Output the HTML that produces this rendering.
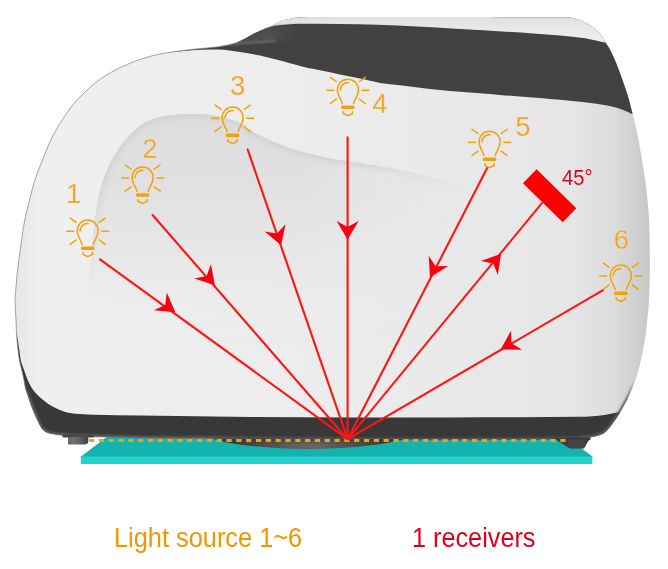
<!DOCTYPE html>
<html><head><meta charset="utf-8"><style>
html,body{margin:0;padding:0;background:#fff;}
body{width:668px;height:569px;overflow:hidden;position:relative;font-family:"Liberation Sans",sans-serif;}
svg{position:absolute;left:0;top:0;}
.lbl{position:absolute;white-space:nowrap;line-height:1;}
</style></head><body>
<svg width="668" height="569" viewBox="0 0 668 569">
<defs>
<clipPath id="bodyclip"><path d="M320.0 17.0 C346.7 16.9 373.3 17.0 400.0 17.0 C426.7 17.0 453.3 17.1 480.0 17.1 C506.7 17.2 533.3 17.0 560.0 17.3 C564.1 17.3 568.3 17.2 572.3 18.0 C576.6 18.9 580.7 20.4 584.6 22.3 C588.1 24.0 591.3 26.1 594.4 28.5 C596.7 30.3 598.8 32.4 600.6 34.6 C602.3 36.7 603.5 39.1 604.9 41.4 C606.3 43.6 607.9 45.8 609.2 48.1 C611.0 51.3 612.6 54.6 614.1 58.0 C615.9 62.0 617.4 66.2 619.0 70.3 C620.2 73.5 621.3 76.8 622.5 80.0 C623.7 83.3 624.9 86.6 626.0 90.0 C627.1 93.3 628.2 96.6 629.1 100.0 C630.4 104.6 631.4 109.3 632.6 114.0 C633.8 118.7 635.1 123.4 636.1 128.1 C637.4 133.9 638.5 139.8 639.6 145.7 C640.9 152.7 642.0 159.8 643.1 166.8 C644.0 172.7 645.0 178.5 645.8 184.4 C646.5 189.6 647.0 194.8 647.5 200.0 C648.1 207.0 648.9 214.0 649.2 221.0 C649.7 231.5 649.7 242.1 649.8 252.6 C649.9 263.1 649.9 273.7 649.6 284.2 C649.4 292.8 649.0 301.4 648.4 310.0 C648.2 313.3 647.6 316.7 647.2 320.0 C646.7 324.7 646.4 329.4 645.8 334.0 C645.2 338.7 644.3 343.4 643.4 348.1 C642.5 352.8 641.7 357.5 640.6 362.1 C639.5 366.8 638.2 371.6 636.7 376.2 C635.5 380.0 634.0 383.7 632.5 387.4 C630.9 391.3 629.4 395.2 627.6 399.0 C625.9 402.6 623.8 406.0 621.8 409.4 C619.8 412.7 617.8 416.0 615.7 419.2 C613.7 422.1 611.8 425.1 609.5 427.8 C607.7 429.9 605.8 432.0 603.4 433.4 C600.8 435.0 597.7 435.7 594.8 436.5 C592.4 437.1 589.9 437.3 587.4 437.6 C583.3 438.1 579.2 438.9 575.0 439.0 C550.0 439.7 525.0 439.8 500.0 440.0 C473.3 440.2 446.7 440.3 420.0 440.2 C380.0 440.1 340.0 439.9 300.0 439.6 C266.7 439.4 233.3 439.0 200.0 438.6 C180.0 438.4 160.0 438.3 140.0 437.9 C123.3 437.6 106.7 437.2 90.0 436.6 C80.8 436.3 71.6 435.9 62.4 435.3 C59.9 435.1 57.5 434.7 55.0 434.3 C52.5 433.9 49.9 433.5 47.5 432.7 C46.1 432.2 44.8 431.4 43.7 430.4 C42.5 429.3 41.5 428.1 40.7 426.7 C39.4 424.6 38.5 422.3 37.4 420.0 C36.2 417.5 35.1 415.0 34.0 412.5 C32.9 410.0 31.9 407.5 31.0 405.0 C30.3 403.2 29.8 401.3 29.2 399.5 C28.5 397.3 27.7 395.2 27.0 393.0 C26.4 391.2 25.7 389.4 25.3 387.6 C24.7 385.1 24.5 382.5 24.0 380.0 C23.4 376.9 22.6 373.8 21.9 370.7 C21.2 367.9 20.4 365.1 19.8 362.2 C19.1 358.7 18.6 355.2 18.2 351.7 C17.7 348.2 17.4 344.6 17.1 341.1 C16.8 337.6 16.6 334.1 16.4 330.6 C16.2 327.1 16.2 323.5 16.0 320.0 C15.7 313.3 15.1 306.5 15.0 299.8 C15.0 297.4 15.3 295.1 15.5 292.7 C16.0 286.8 16.4 281.0 17.0 275.1 C17.6 269.3 18.3 263.4 19.1 257.6 C19.9 251.7 20.9 245.9 21.7 240.0 C22.3 235.9 22.7 231.7 23.4 227.6 C24.0 223.8 24.7 220.0 25.5 216.3 C26.5 211.6 27.8 207.0 29.0 202.3 C30.2 197.6 31.2 192.9 32.5 188.2 C33.7 183.8 35.0 179.3 36.6 175.0 C38.4 169.9 40.6 165.0 42.6 160.0 C44.2 156.0 45.6 152.0 47.3 148.0 C48.9 144.3 50.5 140.6 52.3 137.0 C54.5 132.7 56.9 128.5 59.4 124.3 C61.3 121.1 63.4 118.0 65.5 114.9 C68.2 111.0 70.9 107.1 73.9 103.5 C77.1 99.7 80.7 96.1 84.3 92.6 C87.9 89.1 91.6 85.6 95.6 82.5 C99.0 79.8 102.8 77.4 106.5 75.1 C110.0 72.9 113.5 70.9 117.1 69.0 C120.5 67.3 124.1 65.8 127.6 64.3 C131.7 62.6 135.8 60.8 140.0 59.5 C146.6 57.4 153.2 55.3 160.0 54.0 C170.5 51.9 181.2 50.7 191.9 49.4 C200.8 48.3 209.9 48.0 218.8 46.7 C224.3 45.9 229.7 44.8 235.0 43.2 C238.5 42.1 241.7 40.3 245.0 38.6 C248.1 37.0 250.9 35.1 254.0 33.5 C257.6 31.7 261.3 30.1 265.0 28.5 C268.0 27.2 271.0 26.0 274.0 24.7 C276.0 23.8 277.9 22.6 280.0 21.8 C282.4 20.8 284.9 19.9 287.4 19.3 C290.8 18.5 294.3 17.7 297.8 17.5 C305.2 17.0 312.6 17.0 320.0 17.0 Z"/></clipPath>
<linearGradient id="bodyg" x1="0" y1="0" x2="668" y2="0" gradientUnits="userSpaceOnUse">
<stop offset="0.02" stop-color="#e6e6e6"/><stop offset="0.06" stop-color="#efefef"/><stop offset="0.5" stop-color="#ececec"/><stop offset="0.85" stop-color="#e6e6e6"/><stop offset="0.92" stop-color="#dcdcdc"/><stop offset="0.975" stop-color="#c6c6c6"/>
</linearGradient>
<linearGradient id="stripg" x1="0" y1="16.5" x2="0" y2="42" gradientUnits="userSpaceOnUse">
<stop offset="0" stop-color="#dadada"/><stop offset="0.12" stop-color="#e2e2e2"/><stop offset="0.5" stop-color="#e9e9e9"/><stop offset="1" stop-color="#eeeeee"/>
</linearGradient>
<linearGradient id="olg" x1="0" y1="0" x2="668" y2="0" gradientUnits="userSpaceOnUse">
<stop offset="0.33" stop-color="#fff"/><stop offset="0.42" stop-color="#fff" stop-opacity="0"/>
</linearGradient>
<filter id="blur2" x="-20%" y="-50%" width="140%" height="200%"><feGaussianBlur stdDeviation="1.6"/></filter>
<filter id="blur1" x="-20%" y="-100%" width="140%" height="300%"><feGaussianBlur stdDeviation="0.9"/></filter>
<linearGradient id="botg" x1="0" y1="380" x2="0" y2="400" gradientUnits="userSpaceOnUse"><stop offset="0" stop-color="#fff" stop-opacity="0"/><stop offset="1" stop-color="#fff"/></linearGradient>
<mask id="botmask"><rect x="0" y="0" width="668" height="569" fill="url(#botg)"/></mask>
<linearGradient id="wedgeg" x1="230" y1="0" x2="300" y2="0" gradientUnits="userSpaceOnUse"><stop offset="0" stop-color="#4a4a4a"/><stop offset="0.5" stop-color="#505050"/><stop offset="1" stop-color="#414141"/></linearGradient>
<linearGradient id="frontg" x1="0" y1="456.6" x2="0" y2="463.9" gradientUnits="userSpaceOnUse"><stop offset="0" stop-color="#23d1cd"/><stop offset="0.75" stop-color="#23d1cd"/><stop offset="1" stop-color="#17c6c2"/></linearGradient>
<filter id="blur3" x="-10%" y="-10%" width="120%" height="120%"><feGaussianBlur stdDeviation="2.5"/></filter>
<clipPath id="recclip"><path d="M78.0 420.0 C58.9 413.9 78.8 380.0 80.0 360.0 C80.8 346.6 82.7 333.3 84.0 320.0 C84.6 313.3 84.9 306.6 85.7 300.0 C87.3 286.0 89.4 272.2 91.0 258.2 C92.3 246.5 93.0 234.7 94.5 223.0 C95.9 212.4 97.2 201.8 99.8 191.4 C101.9 183.0 104.9 174.7 108.5 166.8 C111.9 159.4 116.1 152.3 120.8 145.7 C124.9 140.0 129.5 134.4 134.9 129.9 C140.2 125.5 146.1 121.8 152.5 119.3 C159.2 116.7 166.5 115.7 173.6 114.8 C180.6 113.9 187.7 113.9 194.7 114.1 C201.7 114.3 208.8 114.4 215.7 115.8 C224.0 117.4 232.3 119.6 240.0 123.0 C245.8 125.6 250.3 130.6 256.0 133.5 C266.9 139.0 278.0 144.1 289.5 148.0 C303.2 152.6 317.4 155.7 331.5 158.7 C340.9 160.7 350.5 161.4 360.0 163.0 C373.4 165.2 386.8 167.2 400.0 170.0 C416.8 173.5 433.4 177.8 450.0 182.0 C473.4 187.8 497.1 192.7 520.0 200.0 C547.1 208.7 582.6 207.4 600.0 230.0 C620.7 256.9 626.7 296.7 620.0 330.0 C612.4 368.1 597.1 418.4 560.0 430.0 C477.3 455.9 386.6 431.8 300.0 430.0 C225.9 428.5 148.6 442.5 78.0 420.0 Z"/></clipPath>
<linearGradient id="recg2" x1="0" y1="0" x2="668" y2="0" gradientUnits="userSpaceOnUse"><stop offset="0" stop-color="#fff"/><stop offset="0.5" stop-color="#fff"/><stop offset="0.7" stop-color="#fff" stop-opacity="0"/></linearGradient>
<linearGradient id="recg3" x1="0" y1="0" x2="0" y2="569" gradientUnits="userSpaceOnUse"><stop offset="0.3" stop-color="#fff"/><stop offset="0.5" stop-color="#fff" stop-opacity="0"/></linearGradient>
<mask id="recmask3"><rect x="0" y="0" width="668" height="569" fill="url(#recg3)"/></mask>
<mask id="recmask2"><rect x="0" y="0" width="668" height="569" fill="url(#recg2)"/></mask>
<mask id="olmask"><rect x="0" y="0" width="668" height="569" fill="url(#olg)"/></mask>
<linearGradient id="recg" x1="0" y1="110" x2="0" y2="430" gradientUnits="userSpaceOnUse">
<stop offset="0" stop-color="#dcdcdc"/><stop offset="0.25" stop-color="#e1e1e1"/><stop offset="0.45" stop-color="#e4e4e4" stop-opacity="0.7"/><stop offset="0.62" stop-color="#e8e8e8" stop-opacity="0.15"/><stop offset="0.75" stop-color="#e8e8e8" stop-opacity="0"/>
</linearGradient>
<linearGradient id="recgx" x1="80" y1="0" x2="520" y2="0" gradientUnits="userSpaceOnUse">
<stop offset="0" stop-color="#fff" stop-opacity="1"/><stop offset="0.5" stop-color="#fff" stop-opacity="1"/><stop offset="0.9" stop-color="#fff" stop-opacity="0"/>
</linearGradient>
<mask id="recmask"><rect x="0" y="0" width="668" height="569" fill="url(#recgx)"/></mask>
<radialGradient id="bulgeg" cx="310" cy="446" r="80" gradientUnits="userSpaceOnUse" gradientTransform="translate(310 446) scale(1 0.12) translate(-310 -446)">
<stop offset="0" stop-color="#6a6a6a"/><stop offset="1" stop-color="#3a3a3a"/>
</radialGradient>
<linearGradient id="footl" x1="68" y1="0" x2="88.3" y2="0" gradientUnits="userSpaceOnUse">
<stop offset="0" stop-color="#5e5e5e"/><stop offset="0.25" stop-color="#747474"/><stop offset="0.7" stop-color="#5a5a5a"/><stop offset="1" stop-color="#3c3c3c"/>
</linearGradient>
</defs>

<polygon points="80.0,457.2 106.7,437.1 567.2,437.1 593.2,457.2" fill="#14b3ae"/>
<rect x="80.8" y="456.6" width="511.5" height="7.3" fill="url(#frontg)"/>
<g clip-path="url(#bodyclip)">
<rect x="0" y="0" width="668" height="569" fill="url(#bodyg)"/>
<path d="M78.0 420.0 C58.9 413.9 78.8 380.0 80.0 360.0 C80.8 346.6 82.7 333.3 84.0 320.0 C84.6 313.3 84.9 306.6 85.7 300.0 C87.3 286.0 89.4 272.2 91.0 258.2 C92.3 246.5 93.0 234.7 94.5 223.0 C95.9 212.4 97.2 201.8 99.8 191.4 C101.9 183.0 104.9 174.7 108.5 166.8 C111.9 159.4 116.1 152.3 120.8 145.7 C124.9 140.0 129.5 134.4 134.9 129.9 C140.2 125.5 146.1 121.8 152.5 119.3 C159.2 116.7 166.5 115.7 173.6 114.8 C180.6 113.9 187.7 113.9 194.7 114.1 C201.7 114.3 208.8 114.4 215.7 115.8 C224.0 117.4 232.3 119.6 240.0 123.0 C245.8 125.6 250.3 130.6 256.0 133.5 C266.9 139.0 278.0 144.1 289.5 148.0 C303.2 152.6 317.4 155.7 331.5 158.7 C340.9 160.7 350.5 161.4 360.0 163.0 C373.4 165.2 386.8 167.2 400.0 170.0 C416.8 173.5 433.4 177.8 450.0 182.0 C473.4 187.8 497.1 192.7 520.0 200.0 C547.1 208.7 582.6 207.4 600.0 230.0 C620.7 256.9 626.7 296.7 620.0 330.0 C612.4 368.1 597.1 418.4 560.0 430.0 C477.3 455.9 386.6 431.8 300.0 430.0 C225.9 428.5 148.6 442.5 78.0 420.0 Z" fill="url(#recg)" mask="url(#recmask)"/>
<g mask="url(#recmask3)"><g clip-path="url(#recclip)" mask="url(#recmask2)"><path d="M78.0 420.0 C58.9 413.9 78.8 380.0 80.0 360.0 C80.8 346.6 82.7 333.3 84.0 320.0 C84.6 313.3 84.9 306.6 85.7 300.0 C87.3 286.0 89.4 272.2 91.0 258.2 C92.3 246.5 93.0 234.7 94.5 223.0 C95.9 212.4 97.2 201.8 99.8 191.4 C101.9 183.0 104.9 174.7 108.5 166.8 C111.9 159.4 116.1 152.3 120.8 145.7 C124.9 140.0 129.5 134.4 134.9 129.9 C140.2 125.5 146.1 121.8 152.5 119.3 C159.2 116.7 166.5 115.7 173.6 114.8 C180.6 113.9 187.7 113.9 194.7 114.1 C201.7 114.3 208.8 114.4 215.7 115.8 C224.0 117.4 232.3 119.6 240.0 123.0 C245.8 125.6 250.3 130.6 256.0 133.5 C266.9 139.0 278.0 144.1 289.5 148.0 C303.2 152.6 317.4 155.7 331.5 158.7 C340.9 160.7 350.5 161.4 360.0 163.0 C373.4 165.2 386.8 167.2 400.0 170.0 C416.8 173.5 433.4 177.8 450.0 182.0 C473.4 187.8 497.1 192.7 520.0 200.0 C547.1 208.7 582.6 207.4 600.0 230.0 C620.7 256.9 626.7 296.7 620.0 330.0 C612.4 368.1 597.1 418.4 560.0 430.0 C477.3 455.9 386.6 431.8 300.0 430.0 C225.9 428.5 148.6 442.5 78.0 420.0 Z" fill="none" stroke="#d2d2d2" stroke-width="7" filter="url(#blur3)"/></g></g>
<path d="M150.0 54.6 C164.0 53.2 177.9 51.3 191.9 50.3 C200.8 49.6 209.8 49.3 218.8 49.6 C225.9 49.9 233.0 51.0 240.0 52.0 C246.7 53.0 253.4 54.2 260.0 55.6 C268.1 57.4 276.0 59.5 284.0 61.6 C292.0 63.7 299.9 66.2 308.0 68.1 C311.9 69.0 316.0 69.4 320.0 70.2 C326.7 71.5 333.3 73.0 340.0 74.4 C346.7 75.8 353.3 77.2 360.0 78.6 C366.7 80.0 373.3 81.8 380.0 82.9 C386.6 84.0 393.3 84.5 400.0 85.3 C406.7 86.1 413.3 86.9 420.0 87.7 C426.7 88.5 433.3 89.3 440.0 90.0 C446.7 90.7 453.3 91.2 460.0 91.8 C466.7 92.3 473.3 92.8 480.0 93.3 C486.7 93.8 493.3 94.4 500.0 94.9 C506.7 95.4 513.3 95.9 520.0 96.4 C526.7 96.9 533.3 97.4 540.0 97.9 C546.7 98.5 553.3 99.1 560.0 99.7 C566.7 100.3 573.3 101.0 580.0 101.7 C586.0 102.4 592.0 102.9 598.0 103.9 C604.0 104.9 610.1 106.0 616.0 107.5 C619.1 108.3 622.0 109.5 625.0 110.7 C627.4 111.6 629.6 113.0 632.0 113.8 C643.9 117.8 656.0 121.3 668.0 125.0 L668 0 L150 0 Z" fill="#414141"/>
<path d="M150.0 53.6 C164.0 51.9 178.0 50.3 192.0 48.6 C201.3 47.5 210.7 46.6 220.0 45.2 C225.0 44.4 230.2 43.9 235.0 42.2 C240.3 40.4 244.9 37.0 250.0 34.7 C254.9 32.5 259.9 30.5 264.9 28.7 C268.3 27.5 271.8 26.4 275.4 25.7 C279.4 24.9 283.4 24.7 287.4 24.4 C291.6 24.1 295.8 23.8 300.0 23.8 C326.0 23.9 352.0 24.0 378.0 24.8 C404.0 25.6 430.0 27.3 456.0 28.7 C481.8 30.1 507.7 31.7 533.5 33.4 C542.3 34.0 551.2 34.7 560.0 35.5 C568.3 36.3 576.7 37.1 585.0 38.3 C589.0 38.9 593.0 39.9 597.0 40.8 C599.7 41.4 602.3 42.0 605.0 42.6 C610.0 43.7 614.9 45.4 620.0 46.0 C635.9 47.9 652.0 48.7 668.0 50.0 L668 0 L150 0 Z" fill="url(#stripg)"/>
<g clip-path="url(#bodyclip)"><path d="M228 44.8 L268 41.5 L300 40 L300 25 L275 26.5 L262 29.8 L250 35.3 L238 41.5 Z" fill="url(#wedgeg)" filter="url(#blur2)"/>
<path d="M224 44.8 L250 42.6 L276 40.9" stroke="#858585" stroke-width="1.5" fill="none" opacity="0.8" filter="url(#blur1)"/></g>
<path d="M0.0 320.0 C4.7 323.3 9.8 326.1 14.0 330.0 C15.6 331.5 16.4 333.8 17.0 336.0 C18.2 340.6 18.5 345.3 19.3 350.0 C19.9 354.0 20.2 358.1 21.2 362.0 C22.0 365.1 23.3 368.0 24.4 371.0 C25.4 373.8 26.3 376.7 27.5 379.5 C28.7 382.3 29.8 385.0 31.4 387.6 C32.8 389.8 34.5 391.9 36.3 393.8 C38.1 395.7 40.0 397.3 42.0 399.0 C44.0 400.7 46.1 402.4 48.3 403.9 C50.5 405.4 52.8 406.6 55.1 407.8 C57.5 409.0 60.0 410.0 62.5 410.9 C65.0 411.8 67.4 412.5 70.0 413.0 C73.3 413.6 76.7 413.8 80.0 414.0 C85.0 414.3 90.0 414.6 95.0 414.7 C110.0 415.1 125.0 415.4 140.0 415.6 C176.7 416.1 213.3 416.7 250.0 417.0 C283.3 417.3 316.7 417.3 350.0 417.4 C383.3 417.5 416.7 417.4 450.0 417.4 C473.3 417.4 496.7 417.3 520.0 417.2 C540.0 417.1 560.0 417.1 580.0 416.8 C584.1 416.7 588.2 416.5 592.3 416.2 C596.4 415.9 600.5 415.5 604.6 414.9 C607.9 414.4 611.2 413.8 614.5 413.1 C616.2 412.8 617.8 412.5 619.4 411.8 C620.7 411.2 621.9 410.3 623.0 409.5 C625.4 407.7 627.5 405.6 630.0 404.0 C642.5 395.8 655.3 388.0 668.0 380.0 L668 569 L0 569 Z" fill="#383838"/>
<g mask="url(#botmask)"><path d="M320.0 17.0 C346.7 16.9 373.3 17.0 400.0 17.0 C426.7 17.0 453.3 17.1 480.0 17.1 C506.7 17.2 533.3 17.0 560.0 17.3 C564.1 17.3 568.3 17.2 572.3 18.0 C576.6 18.9 580.7 20.4 584.6 22.3 C588.1 24.0 591.3 26.1 594.4 28.5 C596.7 30.3 598.8 32.4 600.6 34.6 C602.3 36.7 603.5 39.1 604.9 41.4 C606.3 43.6 607.9 45.8 609.2 48.1 C611.0 51.3 612.6 54.6 614.1 58.0 C615.9 62.0 617.4 66.2 619.0 70.3 C620.2 73.5 621.3 76.8 622.5 80.0 C623.7 83.3 624.9 86.6 626.0 90.0 C627.1 93.3 628.2 96.6 629.1 100.0 C630.4 104.6 631.4 109.3 632.6 114.0 C633.8 118.7 635.1 123.4 636.1 128.1 C637.4 133.9 638.5 139.8 639.6 145.7 C640.9 152.7 642.0 159.8 643.1 166.8 C644.0 172.7 645.0 178.5 645.8 184.4 C646.5 189.6 647.0 194.8 647.5 200.0 C648.1 207.0 648.9 214.0 649.2 221.0 C649.7 231.5 649.7 242.1 649.8 252.6 C649.9 263.1 649.9 273.7 649.6 284.2 C649.4 292.8 649.0 301.4 648.4 310.0 C648.2 313.3 647.6 316.7 647.2 320.0 C646.7 324.7 646.4 329.4 645.8 334.0 C645.2 338.7 644.3 343.4 643.4 348.1 C642.5 352.8 641.7 357.5 640.6 362.1 C639.5 366.8 638.2 371.6 636.7 376.2 C635.5 380.0 634.0 383.7 632.5 387.4 C630.9 391.3 629.4 395.2 627.6 399.0 C625.9 402.6 623.8 406.0 621.8 409.4 C619.8 412.7 617.8 416.0 615.7 419.2 C613.7 422.1 611.8 425.1 609.5 427.8 C607.7 429.9 605.8 432.0 603.4 433.4 C600.8 435.0 597.7 435.7 594.8 436.5 C592.4 437.1 589.9 437.3 587.4 437.6 C583.3 438.1 579.2 438.9 575.0 439.0 C550.0 439.7 525.0 439.8 500.0 440.0 C473.3 440.2 446.7 440.3 420.0 440.2 C380.0 440.1 340.0 439.9 300.0 439.6 C266.7 439.4 233.3 439.0 200.0 438.6 C180.0 438.4 160.0 438.3 140.0 437.9 C123.3 437.6 106.7 437.2 90.0 436.6 C80.8 436.3 71.6 435.9 62.4 435.3 C59.9 435.1 57.5 434.7 55.0 434.3 C52.5 433.9 49.9 433.5 47.5 432.7 C46.1 432.2 44.8 431.4 43.7 430.4 C42.5 429.3 41.5 428.1 40.7 426.7 C39.4 424.6 38.5 422.3 37.4 420.0 C36.2 417.5 35.1 415.0 34.0 412.5 C32.9 410.0 31.9 407.5 31.0 405.0 C30.3 403.2 29.8 401.3 29.2 399.5 C28.5 397.3 27.7 395.2 27.0 393.0 C26.4 391.2 25.7 389.4 25.3 387.6 C24.7 385.1 24.5 382.5 24.0 380.0 C23.4 376.9 22.6 373.8 21.9 370.7 C21.2 367.9 20.4 365.1 19.8 362.2 C19.1 358.7 18.6 355.2 18.2 351.7 C17.7 348.2 17.4 344.6 17.1 341.1 C16.8 337.6 16.6 334.1 16.4 330.6 C16.2 327.1 16.2 323.5 16.0 320.0 C15.7 313.3 15.1 306.5 15.0 299.8 C15.0 297.4 15.3 295.1 15.5 292.7 C16.0 286.8 16.4 281.0 17.0 275.1 C17.6 269.3 18.3 263.4 19.1 257.6 C19.9 251.7 20.9 245.9 21.7 240.0 C22.3 235.9 22.7 231.7 23.4 227.6 C24.0 223.8 24.7 220.0 25.5 216.3 C26.5 211.6 27.8 207.0 29.0 202.3 C30.2 197.6 31.2 192.9 32.5 188.2 C33.7 183.8 35.0 179.3 36.6 175.0 C38.4 169.9 40.6 165.0 42.6 160.0 C44.2 156.0 45.6 152.0 47.3 148.0 C48.9 144.3 50.5 140.6 52.3 137.0 C54.5 132.7 56.9 128.5 59.4 124.3 C61.3 121.1 63.4 118.0 65.5 114.9 C68.2 111.0 70.9 107.1 73.9 103.5 C77.1 99.7 80.7 96.1 84.3 92.6 C87.9 89.1 91.6 85.6 95.6 82.5 C99.0 79.8 102.8 77.4 106.5 75.1 C110.0 72.9 113.5 70.9 117.1 69.0 C120.5 67.3 124.1 65.8 127.6 64.3 C131.7 62.6 135.8 60.8 140.0 59.5 C146.6 57.4 153.2 55.3 160.0 54.0 C170.5 51.9 181.2 50.7 191.9 49.4 C200.8 48.3 209.9 48.0 218.8 46.7 C224.3 45.9 229.7 44.8 235.0 43.2 C238.5 42.1 241.7 40.3 245.0 38.6 C248.1 37.0 250.9 35.1 254.0 33.5 C257.6 31.7 261.3 30.1 265.0 28.5 C268.0 27.2 271.0 26.0 274.0 24.7 C276.0 23.8 277.9 22.6 280.0 21.8 C282.4 20.8 284.9 19.9 287.4 19.3 C290.8 18.5 294.3 17.7 297.8 17.5 C305.2 17.0 312.6 17.0 320.0 17.0 Z" fill="none" stroke="#606060" stroke-width="4" filter="url(#blur1)"/></g>
</g>
<path d="M320.0 17.0 C346.7 16.9 373.3 17.0 400.0 17.0 C426.7 17.0 453.3 17.1 480.0 17.1 C506.7 17.2 533.3 17.0 560.0 17.3 C564.1 17.3 568.3 17.2 572.3 18.0 C576.6 18.9 580.7 20.4 584.6 22.3 C588.1 24.0 591.3 26.1 594.4 28.5 C596.7 30.3 598.8 32.4 600.6 34.6 C602.3 36.7 603.5 39.1 604.9 41.4 C606.3 43.6 607.9 45.8 609.2 48.1 C611.0 51.3 612.6 54.6 614.1 58.0 C615.9 62.0 617.4 66.2 619.0 70.3 C620.2 73.5 621.3 76.8 622.5 80.0 C623.7 83.3 624.9 86.6 626.0 90.0 C627.1 93.3 628.2 96.6 629.1 100.0 C630.4 104.6 631.4 109.3 632.6 114.0 C633.8 118.7 635.1 123.4 636.1 128.1 C637.4 133.9 638.5 139.8 639.6 145.7 C640.9 152.7 642.0 159.8 643.1 166.8 C644.0 172.7 645.0 178.5 645.8 184.4 C646.5 189.6 647.0 194.8 647.5 200.0 C648.1 207.0 648.9 214.0 649.2 221.0 C649.7 231.5 649.7 242.1 649.8 252.6 C649.9 263.1 649.9 273.7 649.6 284.2 C649.4 292.8 649.0 301.4 648.4 310.0 C648.2 313.3 647.6 316.7 647.2 320.0 C646.7 324.7 646.4 329.4 645.8 334.0 C645.2 338.7 644.3 343.4 643.4 348.1 C642.5 352.8 641.7 357.5 640.6 362.1 C639.5 366.8 638.2 371.6 636.7 376.2 C635.5 380.0 634.0 383.7 632.5 387.4 C630.9 391.3 629.4 395.2 627.6 399.0 C625.9 402.6 623.8 406.0 621.8 409.4 C619.8 412.7 617.8 416.0 615.7 419.2 C613.7 422.1 611.8 425.1 609.5 427.8 C607.7 429.9 605.8 432.0 603.4 433.4 C600.8 435.0 597.7 435.7 594.8 436.5 C592.4 437.1 589.9 437.3 587.4 437.6 C583.3 438.1 579.2 438.9 575.0 439.0 C550.0 439.7 525.0 439.8 500.0 440.0 C473.3 440.2 446.7 440.3 420.0 440.2 C380.0 440.1 340.0 439.9 300.0 439.6 C266.7 439.4 233.3 439.0 200.0 438.6 C180.0 438.4 160.0 438.3 140.0 437.9 C123.3 437.6 106.7 437.2 90.0 436.6 C80.8 436.3 71.6 435.9 62.4 435.3 C59.9 435.1 57.5 434.7 55.0 434.3 C52.5 433.9 49.9 433.5 47.5 432.7 C46.1 432.2 44.8 431.4 43.7 430.4 C42.5 429.3 41.5 428.1 40.7 426.7 C39.4 424.6 38.5 422.3 37.4 420.0 C36.2 417.5 35.1 415.0 34.0 412.5 C32.9 410.0 31.9 407.5 31.0 405.0 C30.3 403.2 29.8 401.3 29.2 399.5 C28.5 397.3 27.7 395.2 27.0 393.0 C26.4 391.2 25.7 389.4 25.3 387.6 C24.7 385.1 24.5 382.5 24.0 380.0 C23.4 376.9 22.6 373.8 21.9 370.7 C21.2 367.9 20.4 365.1 19.8 362.2 C19.1 358.7 18.6 355.2 18.2 351.7 C17.7 348.2 17.4 344.6 17.1 341.1 C16.8 337.6 16.6 334.1 16.4 330.6 C16.2 327.1 16.2 323.5 16.0 320.0 C15.7 313.3 15.1 306.5 15.0 299.8 C15.0 297.4 15.3 295.1 15.5 292.7 C16.0 286.8 16.4 281.0 17.0 275.1 C17.6 269.3 18.3 263.4 19.1 257.6 C19.9 251.7 20.9 245.9 21.7 240.0 C22.3 235.9 22.7 231.7 23.4 227.6 C24.0 223.8 24.7 220.0 25.5 216.3 C26.5 211.6 27.8 207.0 29.0 202.3 C30.2 197.6 31.2 192.9 32.5 188.2 C33.7 183.8 35.0 179.3 36.6 175.0 C38.4 169.9 40.6 165.0 42.6 160.0 C44.2 156.0 45.6 152.0 47.3 148.0 C48.9 144.3 50.5 140.6 52.3 137.0 C54.5 132.7 56.9 128.5 59.4 124.3 C61.3 121.1 63.4 118.0 65.5 114.9 C68.2 111.0 70.9 107.1 73.9 103.5 C77.1 99.7 80.7 96.1 84.3 92.6 C87.9 89.1 91.6 85.6 95.6 82.5 C99.0 79.8 102.8 77.4 106.5 75.1 C110.0 72.9 113.5 70.9 117.1 69.0 C120.5 67.3 124.1 65.8 127.6 64.3 C131.7 62.6 135.8 60.8 140.0 59.5 C146.6 57.4 153.2 55.3 160.0 54.0 C170.5 51.9 181.2 50.7 191.9 49.4 C200.8 48.3 209.9 48.0 218.8 46.7 C224.3 45.9 229.7 44.8 235.0 43.2 C238.5 42.1 241.7 40.3 245.0 38.6 C248.1 37.0 250.9 35.1 254.0 33.5 C257.6 31.7 261.3 30.1 265.0 28.5 C268.0 27.2 271.0 26.0 274.0 24.7 C276.0 23.8 277.9 22.6 280.0 21.8 C282.4 20.8 284.9 19.9 287.4 19.3 C290.8 18.5 294.3 17.7 297.8 17.5 C305.2 17.0 312.6 17.0 320.0 17.0 Z" fill="none" stroke="#7a7a7a" stroke-width="0.9" opacity="0.75" mask="url(#olmask)"/>
<path d="M212 438.5 C 250 451.5, 355 453, 404 439 Z" fill="url(#bulgeg)"/>
<path d="M553 438 L570 448.6 L584 448.6 L590 438 Z" fill="#3d3d3d"/>
<rect x="62.5" y="434.8" width="31.5" height="2.8" rx="1" fill="#474747"/>
<path d="M68.1 437 H88.3 V441 Q88.3 444.6 84 444.6 H68.1 Z" fill="url(#footl)"/>
<rect x="566.5" y="437.3" width="24" height="3" rx="1.2" fill="#3a3a3a"/>
<path d="M567.6 439.5 H584.8 V445 Q584.8 447.6 582 447.6 H570.5 Q567.6 447.6 567.6 445 Z" fill="#444"/>
<line x1="89" y1="440.5" x2="566" y2="440.5" stroke="#faa000" stroke-width="3" stroke-dasharray="5.2 4.62"/>
<line x1="100.0" y1="259.3" x2="347.6" y2="439.2" stroke="#ff1414" stroke-width="2.1" stroke-linecap="round"/>
<line x1="152.6" y1="215.0" x2="347.6" y2="439.2" stroke="#ff1414" stroke-width="2.1" stroke-linecap="round"/>
<line x1="247.7" y1="149.6" x2="347.6" y2="439.2" stroke="#ff1414" stroke-width="2.1" stroke-linecap="round"/>
<line x1="347.6" y1="137.4" x2="347.6" y2="439.2" stroke="#ff1414" stroke-width="2.1" stroke-linecap="round"/>
<line x1="487.4" y1="167.6" x2="347.6" y2="439.2" stroke="#ff1414" stroke-width="2.1" stroke-linecap="round"/>
<line x1="603.0" y1="290.2" x2="347.6" y2="439.2" stroke="#ff1414" stroke-width="2.1" stroke-linecap="round"/>
<line x1="542.3" y1="202.6" x2="347.6" y2="439.2" stroke="#ff1414" stroke-width="2.0"/>
<path d="M175.3 312.2 L153.9 310.2 L165.2 304.9 L166.8 292.4 Z" fill="#f80012"/>
<path d="M214.8 285.3 L194.4 278.6 L206.6 275.9 L211.0 264.1 Z" fill="#f80012"/>
<path d="M281.1 245.3 L264.7 231.4 L277.0 233.5 L285.5 224.2 Z" fill="#f80012"/>
<path d="M347.6 239.5 L336.6 221.0 L347.6 227.0 L358.6 221.0 Z" fill="#f80012"/>
<path d="M430.0 277.4 L428.7 255.9 L435.7 266.3 L448.2 266.0 Z" fill="#f80012"/>
<path d="M500.6 349.5 L511.0 330.7 L511.4 343.2 L522.1 349.7 Z" fill="#f80012"/>
<path d="M501.1 253.7 L497.8 275.0 L493.2 263.4 L480.9 261.0 Z" fill="#f80012"/>
<rect x="521.8" y="186.0" width="55.7" height="19.4" fill="#ff0000" transform="rotate(44.5 549.6 195.7)"/>
<g transform="translate(87.7 231.2)" fill="none" stroke="#f4a00c" stroke-width="1.5" stroke-linecap="round"><path d="M-5.6 13.4 C-6 10 -10.5 5.5 -10.5 -0.6 A10.5 10.5 0 0 1 10.5 -0.6 C10.5 5.5 6 10 5.6 13.4"/><path d="M-7.6 -0.3 A7.2 7.2 0 0 1 0.3 -7.6"/><rect x="-6.8" y="15.3" width="13.6" height="3.5" rx="1.5" fill="#f4a00c" stroke="none"/><path d="M-4.6 21.4 V23.2 L0 25.4 L4.6 23.2 V21.4"/><path d="M-21 0 H-14.2 M14.2 0 H21 M-17.5 -13 L-11.6 -8.8 M17.5 -13 L11.6 -8.8 M-17.5 13.2 L-11.6 8.8 M17.5 13.2 L11.6 8.8"/></g>
<g transform="translate(142.6 178.0)" fill="none" stroke="#f4a00c" stroke-width="1.5" stroke-linecap="round"><path d="M-5.6 13.4 C-6 10 -10.5 5.5 -10.5 -0.6 A10.5 10.5 0 0 1 10.5 -0.6 C10.5 5.5 6 10 5.6 13.4"/><path d="M-7.6 -0.3 A7.2 7.2 0 0 1 0.3 -7.6"/><rect x="-6.8" y="15.3" width="13.6" height="3.5" rx="1.5" fill="#f4a00c" stroke="none"/><path d="M-4.6 21.4 V23.2 L0 25.4 L4.6 23.2 V21.4"/><path d="M-21 0 H-14.2 M14.2 0 H21 M-17.5 -13 L-11.6 -8.8 M17.5 -13 L11.6 -8.8 M-17.5 13.2 L-11.6 8.8 M17.5 13.2 L11.6 8.8"/></g>
<g transform="translate(232.6 118.2)" fill="none" stroke="#f4a00c" stroke-width="1.5" stroke-linecap="round"><path d="M-5.6 13.4 C-6 10 -10.5 5.5 -10.5 -0.6 A10.5 10.5 0 0 1 10.5 -0.6 C10.5 5.5 6 10 5.6 13.4"/><path d="M-7.6 -0.3 A7.2 7.2 0 0 1 0.3 -7.6"/><rect x="-6.8" y="15.3" width="13.6" height="3.5" rx="1.5" fill="#f4a00c" stroke="none"/><path d="M-4.6 21.4 V23.2 L0 25.4 L4.6 23.2 V21.4"/><path d="M-21 0 H-14.2 M14.2 0 H21 M-17.5 -13 L-11.6 -8.8 M17.5 -13 L11.6 -8.8 M-17.5 13.2 L-11.6 8.8 M17.5 13.2 L11.6 8.8"/></g>
<g transform="translate(347.9 90.3)" fill="none" stroke="#f4a00c" stroke-width="1.5" stroke-linecap="round"><path d="M-5.6 13.4 C-6 10 -10.5 5.5 -10.5 -0.6 A10.5 10.5 0 0 1 10.5 -0.6 C10.5 5.5 6 10 5.6 13.4"/><path d="M-7.6 -0.3 A7.2 7.2 0 0 1 0.3 -7.6"/><rect x="-6.8" y="15.3" width="13.6" height="3.5" rx="1.5" fill="#f4a00c" stroke="none"/><path d="M-4.6 21.4 V23.2 L0 25.4 L4.6 23.2 V21.4"/><path d="M-21 0 H-14.2 M14.2 0 H21 M-17.5 -13 L-11.6 -8.8 M17.5 -13 L11.6 -8.8 M-17.5 13.2 L-11.6 8.8 M17.5 13.2 L11.6 8.8"/></g>
<g transform="translate(489.6 142.3)" fill="none" stroke="#f4a00c" stroke-width="1.5" stroke-linecap="round"><path d="M-5.6 13.4 C-6 10 -10.5 5.5 -10.5 -0.6 A10.5 10.5 0 0 1 10.5 -0.6 C10.5 5.5 6 10 5.6 13.4"/><path d="M-7.6 -0.3 A7.2 7.2 0 0 1 0.3 -7.6"/><rect x="-6.8" y="15.3" width="13.6" height="3.5" rx="1.5" fill="#f4a00c" stroke="none"/><path d="M-4.6 21.4 V23.2 L0 25.4 L4.6 23.2 V21.4"/><path d="M-21 0 H-14.2 M14.2 0 H21 M-17.5 -13 L-11.6 -8.8 M17.5 -13 L11.6 -8.8 M-17.5 13.2 L-11.6 8.8 M17.5 13.2 L11.6 8.8"/></g>
<g transform="translate(620.8 276.1)" fill="none" stroke="#f4a00c" stroke-width="1.5" stroke-linecap="round"><path d="M-5.6 13.4 C-6 10 -10.5 5.5 -10.5 -0.6 A10.5 10.5 0 0 1 10.5 -0.6 C10.5 5.5 6 10 5.6 13.4"/><path d="M-7.6 -0.3 A7.2 7.2 0 0 1 0.3 -7.6"/><rect x="-6.8" y="15.3" width="13.6" height="3.5" rx="1.5" fill="#f4a00c" stroke="none"/><path d="M-4.6 21.4 V23.2 L0 25.4 L4.6 23.2 V21.4"/><path d="M-21 0 H-14.2 M14.2 0 H21 M-17.5 -13 L-11.6 -8.8 M17.5 -13 L11.6 -8.8 M-17.5 13.2 L-11.6 8.8 M17.5 13.2 L11.6 8.8"/></g>
</svg>
<div class="lbl" style="left:66.3px;top:179.6px;font-size:27.2px;color:#f2a21e;-webkit-text-stroke:0.3px rgba(236,236,236,0.85);">1</div>
<div class="lbl" style="left:142.4px;top:134.8px;font-size:27.2px;color:#f2a21e;-webkit-text-stroke:0.3px rgba(236,236,236,0.85);">2</div>
<div class="lbl" style="left:230.2px;top:71.9px;font-size:27.2px;color:#f2a21e;-webkit-text-stroke:0.3px rgba(236,236,236,0.85);">3</div>
<div class="lbl" style="left:372.4px;top:90.1px;font-size:27.2px;color:#f2a21e;-webkit-text-stroke:0.3px rgba(236,236,236,0.85);">4</div>
<div class="lbl" style="left:515.6px;top:112.6px;font-size:27.2px;color:#f2a21e;-webkit-text-stroke:0.3px rgba(236,236,236,0.85);">5</div>
<div class="lbl" style="left:613.9px;top:225.9px;font-size:27.2px;color:#f2a21e;-webkit-text-stroke:0.3px rgba(236,236,236,0.85);">6</div>
<div class="lbl" style="left:561.9px;top:167.2px;font-size:21.2px;color:#e8001c;transform:scaleX(0.95);transform-origin:0 0;">45°</div>
<div class="lbl" style="left:114.0px;top:523.9px;font-size:27.5px;color:#f09600;transform:scaleX(0.922);transform-origin:0 0;">Light source 1~6</div>
<div class="lbl" style="left:411.7px;top:524.2px;font-size:27.5px;color:#e0001b;transform:scaleX(0.918);transform-origin:0 0;">1 receivers</div>
</body></html>
